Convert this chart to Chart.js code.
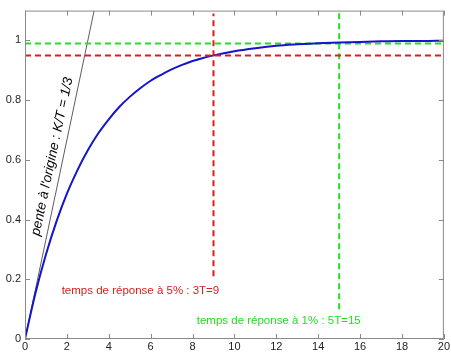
<!DOCTYPE html>
<html>
<head>
<meta charset="utf-8">
<script src="https://cdn.jsdelivr.net/npm/chart.js@4"></script>
<style>
  html, body { margin: 0; padding: 0; background: #fff; }
  #wrap { width: 451px; height: 352px; }
</style>
</head>
<body>
<div id="wrap"><canvas id="c"></canvas></div>
<script>
// reponse indicielle
const temps = [0, 0.5, 1, 1.5, 2, 2.5, 3, 3.5, 4, 4.5, 5, 5.5, 6, 6.5, 7, 7.5, 8, 8.5, 9, 10, 11, 12, 13, 14, 15, 16, 17, 18, 19, 20];
const reponse = [0, 0.154, 0.283, 0.393, 0.487, 0.565, 0.632, 0.689, 0.736, 0.777, 0.811, 0.840, 0.865, 0.885, 0.903, 0.918, 0.931, 0.941, 0.950, 0.964, 0.974, 0.982, 0.987, 0.991, 0.993, 0.995, 0.997, 0.998, 0.998, 0.999];

// tangente a l'origine
const tangenteX = [0, 3.3];
const tangenteY = [0, 1.1];

// reperes 5% et 1%
const rougeH = { x: [0, 20], y: [0.95, 0.95] };
const rougeV = { x: [9, 9], y: [0.21, 1.09] };
const vertH = { x: [0, 20], y: [0.99, 0.99] };
const vertV = { x: [15, 15], y: [0.1, 1.1] };

const xTicks = [0, 2, 4, 6, 8, 10, 12, 14, 16, 18, 20];
const yTicks = [0, 0.2, 0.4, 0.6, 0.8, 1];

function pts(xs, ys) {
	return xs.map((x, i) => ({ x: x, y: ys[i] }));
}

const axisColor = "#8a8a8a";
const police = "'Liberation Sans', Arial, sans-serif";

// cadre + graduations vers l'interieur (style matlab)
const cadrePlugin = {
	id: "cadre",
	afterDraw(chart) {
		const { ctx, chartArea: a, scales } = chart;
		ctx.save();
		ctx.strokeStyle = axisColor;
		ctx.lineWidth = 1;
		ctx.strokeRect(a.left + 0.5, a.top + 0.5, a.right - a.left - 1, a.bottom - a.top - 1);
		ctx.beginPath();
		xTicks.forEach((v) => {
			const px = Math.round(scales.x.getPixelForValue(v)) + 0.5;
			ctx.moveTo(px, a.bottom); ctx.lineTo(px, a.bottom - 5);
			ctx.moveTo(px, a.top); ctx.lineTo(px, a.top + 5);
		});
		yTicks.forEach((v) => {
			const py = Math.round(scales.y.getPixelForValue(v)) + 0.5;
			ctx.moveTo(a.left, py); ctx.lineTo(a.left + 5, py);
			ctx.moveTo(a.right, py); ctx.lineTo(a.right - 5, py);
		});
		ctx.stroke();

		// textes
		ctx.font = "11.5px " + police;
		ctx.textBaseline = "middle";
		ctx.fillStyle = "#d42020";
		ctx.fillText("temps de réponse à 5% : 3T=9", scales.x.getPixelForValue(1.75), scales.y.getPixelForValue(0.162));
		ctx.fillStyle = "#22dd22";
		ctx.fillText("temps de réponse à 1% : 5T=15", scales.x.getPixelForValue(8.2), scales.y.getPixelForValue(0.06));

		const x0 = scales.x.getPixelForValue(tangenteX[0]), y0 = scales.y.getPixelForValue(tangenteY[0]);
		const x1 = scales.x.getPixelForValue(tangenteX[1]), y1 = scales.y.getPixelForValue(tangenteY[1]);
		const angle = Math.atan2(y1 - y0, x1 - x0);
		ctx.translate(scales.x.getPixelForValue(1.3), scales.y.getPixelForValue(0.611));
		ctx.rotate(angle);
		ctx.font = "italic 13.5px " + police;
		ctx.fillStyle = "#000";
		ctx.textAlign = "center";
		ctx.fillText("pente à l'origine : K/T = 1/3", 0, 0);
		ctx.restore();
	},
};

const dash = [6, 4];

new Chart(document.getElementById("c"), {
	type: "scatter",
	data: {
		datasets: [
			{ data: pts(rougeH.x, rougeH.y), showLine: true, borderColor: "#dd1c1c", borderWidth: 2, borderDash: dash, pointRadius: 0 },
			{ data: pts(rougeV.x, rougeV.y), showLine: true, borderColor: "#dd1c1c", borderWidth: 2, borderDash: dash, pointRadius: 0 },
			{ data: pts(temps, reponse), showLine: true, borderColor: "#1414cc", borderWidth: 2, pointRadius: 0, cubicInterpolationMode: "monotone" },
			{ data: pts(vertH.x, vertH.y), showLine: true, borderColor: "#22e022", borderWidth: 2, borderDash: dash, pointRadius: 0 },
			{ data: pts(vertV.x, vertV.y), showLine: true, borderColor: "#22e022", borderWidth: 2, borderDash: dash, pointRadius: 0 },
			{ data: pts(tangenteX, tangenteY), showLine: true, borderColor: "#333", borderWidth: 0.8, pointRadius: 0 },
		],
	},
	options: {
		responsive: true,
		maintainAspectRatio: false,
		animation: false,
		layout: { padding: { top: 8, right: 4, left: 0, bottom: 0 } },
		plugins: { legend: { display: false }, tooltip: { enabled: false } },
		scales: {
			x: {
				type: "linear",
				min: 0,
				max: 20,
				afterBuildTicks: (s) => { s.ticks = xTicks.map((v) => ({ value: v })); },
				afterFit: (s) => { s.height = 13; },
				grid: { display: false, drawTicks: false },
				border: { display: false },
				ticks: { padding: 1, color: "#222", font: { family: police, size: 11 }, maxRotation: 0, callback: (v) => String(v) },
			},
			y: {
				type: "linear",
				min: 0,
				max: 1.1,
				afterBuildTicks: (s) => { s.ticks = yTicks.map((v) => ({ value: v })); },
				afterFit: (s) => { s.width = 25; },
				grid: { display: false, drawTicks: false },
				border: { display: false },
				ticks: { padding: 4, color: "#222", font: { family: police, size: 11 }, callback: (v) => String(v) },
			},
		},
	},
	plugins: [cadrePlugin],
});
</script>
</body>
</html>
